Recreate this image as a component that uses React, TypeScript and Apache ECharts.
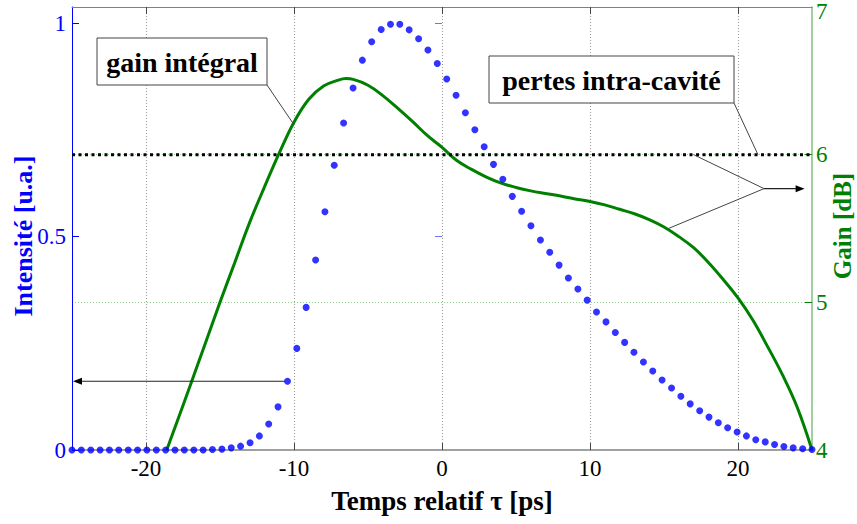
import React, { useEffect, useRef } from 'react';
import * as echarts from 'echarts';

// Sample times of the intensity profile (ps)
const intensityTimes = [
  -25.0, -24.37, -23.73, -23.1, -22.47, -21.84, -21.2, -20.57, -19.94, -19.3,
  -18.67, -18.04, -17.41, -16.77, -16.14, -15.51, -14.87, -14.24, -13.61, -12.97,
  -12.34, -11.71, -11.08, -10.44, -9.81, -9.18, -8.54, -7.91, -7.28, -6.65,
  -6.01, -5.38, -4.75, -4.11, -3.48, -2.85, -2.22, -1.58, -0.95, -0.32,
  0.32, 0.95, 1.58, 2.22, 2.85, 3.48, 4.11, 4.75, 5.38, 6.01,
  6.65, 7.28, 7.91, 8.54, 9.18, 9.81, 10.44, 11.08, 11.71, 12.34,
  12.97, 13.61, 14.24, 14.87, 15.51, 16.14, 16.77, 17.41, 18.04, 18.67,
  19.3, 19.94, 20.57, 21.2, 21.84, 22.47, 23.1, 23.73, 24.37, 25.0,
];
// Normalised intensity (u.a.)
const intensityValues = [
  0, 0, 0, 0, 0, 0, 0, 0, 0, 0,
  0, 0, 0, 0, 0, 0.001, 0.002, 0.005, 0.009, 0.017,
  0.033, 0.061, 0.101, 0.161, 0.238, 0.334, 0.445, 0.558, 0.667, 0.766,
  0.848, 0.913, 0.956, 0.985, 0.997, 0.997, 0.984, 0.963, 0.937, 0.905,
  0.869, 0.831, 0.79, 0.75, 0.71, 0.669, 0.634, 0.594, 0.559, 0.525,
  0.492, 0.463, 0.433, 0.403, 0.377, 0.351, 0.323, 0.3, 0.275, 0.252,
  0.229, 0.206, 0.185, 0.164, 0.145, 0.126, 0.108, 0.092, 0.077, 0.064,
  0.052, 0.042, 0.033, 0.024, 0.019, 0.013, 0.008, 0.005, 0.003, 0.001,
];
// Integrated gain (dB)
const gainTimes = [
  -18.6, -17, -16, -15, -14, -13, -12, -11, -10, -9, -8, -7, -6.5, -6, -5, -4, -3, -2, -1,
  0, 1, 2, 3, 4, 5, 6, 7, 8, 9, 10, 11, 12, 13, 14, 15, 16, 17, 18, 19, 20, 21, 22, 23, 24, 25,
];
const gainValues = [
  4.0, 4.44, 4.72, 5.0, 5.27, 5.54, 5.78, 6.01, 6.22, 6.375, 6.465, 6.505, 6.515, 6.51, 6.47, 6.4, 6.315, 6.225, 6.13,
  6.05, 5.96, 5.9, 5.848, 5.807, 5.778, 5.755, 5.737, 5.72, 5.7, 5.683, 5.66, 5.63, 5.6, 5.56, 5.51, 5.445, 5.37, 5.27, 5.155,
  5.03, 4.88, 4.7, 4.51, 4.29, 4.0,
];
// Intra-cavity losses (dB)
const lossTimes = [-25, 25];
const lossValues = [6, 6];

const xTickValues = [-20, -10, 0, 10, 20];
const intensityTickValues = [0, 0.5, 1];
const gainLabelValues = [4, 5, 6, 7];
const gainTickValues = [5, 6];
const intensityMirrorTicks = [0.5, 1];

export default function App() {
  const ref = useRef<HTMLDivElement>(null);
  useEffect(() => {
    const chart = echarts.init(ref.current as HTMLDivElement, null, { renderer: 'svg' });
    const serif = 'Liberation Serif';
    const BLUE = '#0000ff';
    const GREEN = '#008000';
    const LGREEN = '#80c080';
    const GRAY = '#808080';
    const intensityMax = 1.0375;

    const option: any = {
      animation: false,
      backgroundColor: '#ffffff',
      textStyle: { fontFamily: serif },
      grid: { left: 72, right: 45, top: 7, bottom: 74, containLabel: false, outerBoundsMode: 'none' },
      xAxis: [
        {
          type: 'value', position: 'bottom', min: -25, max: 25,
          axisLine: { show: true, onZero: false, lineStyle: { color: GRAY, width: 1.5 } },
          axisTick: { show: true, inside: true, length: 7, customValues: xTickValues, lineStyle: { color: '#444', width: 1 } },
          axisLabel: { customValues: xTickValues, color: '#000', fontFamily: serif, fontSize: 23, margin: 7 },
          splitLine: { show: true, lineStyle: { color: '#999999', type: [1, 2], width: 1 } },
          name: 'Temps relatif τ [ps]', nameLocation: 'middle', nameGap: 37,
          nameTextStyle: { fontFamily: serif, fontSize: 27, fontWeight: 'bold', color: '#000' },
        },
        {
          type: 'value', position: 'top', min: -25, max: 25,
          axisLine: { show: true, onZero: false, lineStyle: { color: GRAY, width: 1 } },
          axisTick: { show: true, inside: true, length: 7, customValues: xTickValues, lineStyle: { color: '#444', width: 1 } },
          axisLabel: { show: false },
          splitLine: { show: false },
        },
      ],
      yAxis: [
        {
          type: 'value', position: 'left', min: 0, max: intensityMax,
          axisLine: { show: true, onZero: false, lineStyle: { color: BLUE, width: 1 } },
          axisTick: { show: true, inside: true, length: 7, customValues: intensityTickValues, lineStyle: { color: BLUE, width: 1 } },
          axisLabel: { customValues: intensityTickValues, color: BLUE, fontFamily: serif, fontSize: 23, margin: 6 },
          splitLine: { show: false },
        },
        {
          type: 'value', position: 'right', min: 4, max: 7,
          axisLine: { show: true, onZero: false, lineStyle: { color: LGREEN, width: 1.5 } },
          axisTick: { show: true, inside: true, length: 7, customValues: gainTickValues, lineStyle: { color: GREEN, width: 1 } },
          axisLabel: {
            customValues: gainLabelValues, color: GREEN, fontFamily: serif, fontSize: 23, margin: 4,
            formatter: (v: number) => (v === 7 ? '{top|7}' : String(v)),
            rich: { top: { fontFamily: serif, fontSize: 23, lineHeight: 23, color: GREEN, padding: [9, 0, 0, 0] } },
          },
          splitLine: { show: true, lineStyle: { color: '#90d090', type: [1, 2], width: 1 } },
        },
        {
          type: 'value', position: 'right', min: 0, max: intensityMax,
          axisLine: { show: false },
          axisTick: { show: true, inside: true, length: 7, customValues: intensityMirrorTicks, lineStyle: { color: '#7070ff', width: 1 } },
          axisLabel: { show: false },
          splitLine: { show: false },
        },
      ],
      series: [
        {
          type: 'line', name: 'Gain intégral', xAxisIndex: 0, yAxisIndex: 1,
          data: gainTimes.map((t, i) => [t, gainValues[i]]),
          showSymbol: false, smooth: 0.4,
          lineStyle: { color: GREEN, width: 3 }, z: 2,
        },
        {
          type: 'scatter', name: 'Intensité', xAxisIndex: 0, yAxisIndex: 0,
          data: intensityTimes.map((t, i) => [t, intensityValues[i]]),
          symbol: 'circle', symbolSize: 7,
          itemStyle: { color: BLUE }, z: 3,
        },
        {
          type: 'line', name: 'Pertes intra-cavité', xAxisIndex: 0, yAxisIndex: 1,
          data: lossTimes.map((t, i) => [t, lossValues[i]]),
          showSymbol: false,
          lineStyle: { color: '#000', width: 3, type: [3, 3.5] }, z: 4,
        },
      ],
    };
    chart.setOption(option);

    const px = (x: number, y: number, yi: number) =>
      chart.convertToPixel({ xAxisIndex: 0, yAxisIndex: yi }, [x, y]) as number[];

    const gainAnchor = px(-10.05, 6.21, 1);
    const lossAnchor = px(21.35, 6, 1);
    const junction = px(21.76, 5.77, 1);
    const arrowTip = px(24.5, 5.77, 1);
    const lossFrom = px(17.0, 6, 1);
    const gainFrom = px(15.3, 5.5, 1);
    const leftFrom = px(-10.44, 0.161, 0);
    const leftTo = px(-25, 0.161, 0);
    const stroke = '#444';
    const font = { fontFamily: serif, fontSize: 28, fontWeight: 'bold' };

    chart.setOption({
      graphic: [
        {
          type: 'text', x: 23, y: 236, rotation: Math.PI / 2,
          style: { text: 'Intensité [u.a.]', fontFamily: serif, fontSize: 26, fontWeight: 'bold', fill: BLUE, align: 'center', verticalAlign: 'middle' },
        },
        {
          type: 'text', x: 842, y: 226, rotation: Math.PI / 2,
          style: { text: 'Gain [dB]', fontFamily: serif, fontSize: 25, fontWeight: 'bold', fill: GREEN, align: 'center', verticalAlign: 'middle' },
        },
        { type: 'rect', shape: { x: 97, y: 38, width: 170, height: 47 }, style: { fill: '#fff', stroke, lineWidth: 1 }, z: 10 },
        { type: 'text', x: 182, y: 62, style: { text: 'gain intégral', ...font, fill: '#000', align: 'center', verticalAlign: 'middle' }, z: 11 },
        { type: 'line', shape: { x1: 267, y1: 85, x2: gainAnchor[0], y2: gainAnchor[1] }, style: { stroke, lineWidth: 1 }, z: 10 },
        { type: 'rect', shape: { x: 489, y: 56, width: 245, height: 47 }, style: { fill: '#fff', stroke, lineWidth: 1 }, z: 10 },
        { type: 'text', x: 611.5, y: 80, style: { text: 'pertes intra-cavité', ...font, fill: '#000', align: 'center', verticalAlign: 'middle' }, z: 11 },
        { type: 'line', shape: { x1: 734, y1: 103, x2: lossAnchor[0], y2: lossAnchor[1] }, style: { stroke, lineWidth: 1 }, z: 10 },
        { type: 'line', shape: { x1: lossFrom[0], y1: lossFrom[1], x2: junction[0], y2: junction[1] }, style: { stroke, lineWidth: 1 }, z: 10 },
        { type: 'line', shape: { x1: gainFrom[0], y1: gainFrom[1], x2: junction[0], y2: junction[1] }, style: { stroke, lineWidth: 1 }, z: 10 },
        { type: 'line', shape: { x1: junction[0], y1: junction[1], x2: arrowTip[0] - 6, y2: arrowTip[1] }, style: { stroke: '#222', lineWidth: 1.2 }, z: 10 },
        { type: 'polygon', shape: { points: [[arrowTip[0], arrowTip[1]], [arrowTip[0] - 9, arrowTip[1] - 3.5], [arrowTip[0] - 9, arrowTip[1] + 3.5]] }, style: { fill: '#000' }, z: 10 },
        { type: 'line', shape: { x1: leftFrom[0] - 3, y1: leftFrom[1], x2: leftTo[0] + 6, y2: leftTo[1] }, style: { stroke: '#222', lineWidth: 1.2 }, z: 10 },
        { type: 'polygon', shape: { points: [[leftTo[0] + 1, leftTo[1]], [leftTo[0] + 10, leftTo[1] - 3.5], [leftTo[0] + 10, leftTo[1] + 3.5]] }, style: { fill: '#000' }, z: 10 },
      ],
    });

    return () => chart.dispose();
  }, []);

  return <div ref={ref} style={{ position: 'absolute', left: 0, top: 0, width: 857, height: 524, background: '#fff' }} />;
}
